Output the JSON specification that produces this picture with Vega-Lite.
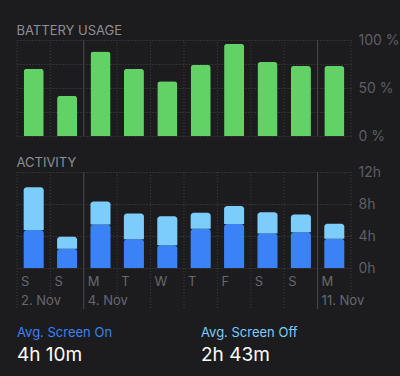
{
  "$schema": "https://vega.github.io/schema/vega-lite/v6.json",
  "background": "#1c1c1e",
  "padding": {"left": 16, "top": 25, "right": 30, "bottom": 60},
  "bounds": "flush",
  "spacing": 36,
  "config": {
    "font": "Inter",
    "view": {"stroke": null},
    "title": {"anchor": "start", "fontSize": 13, "fontWeight": "normal", "color": "#8e8e93", "offset": -5}
  },
  "datasets": {
    "days": [
      {"day": "Nov 2", "dow": "S", "dateLabel": "2. Nov", "battery": 70, "screenOn": 4.75, "screenOff": 5.33},
      {"day": "Nov 3", "dow": "S", "dateLabel": null, "battery": 42, "screenOn": 2.4, "screenOff": 1.5},
      {"day": "Nov 4", "dow": "M", "dateLabel": "4. Nov", "battery": 88, "screenOn": 5.45, "screenOff": 2.85},
      {"day": "Nov 5", "dow": "T", "dateLabel": null, "battery": 70, "screenOn": 3.6, "screenOff": 3.2},
      {"day": "Nov 6", "dow": "W", "dateLabel": null, "battery": 57, "screenOn": 2.83, "screenOff": 3.63},
      {"day": "Nov 7", "dow": "T", "dateLabel": null, "battery": 74, "screenOn": 4.9, "screenOff": 2.0},
      {"day": "Nov 8", "dow": "F", "dateLabel": null, "battery": 96, "screenOn": 5.5, "screenOff": 2.25},
      {"day": "Nov 9", "dow": "S", "dateLabel": null, "battery": 77, "screenOn": 4.3, "screenOff": 2.66},
      {"day": "Nov 10", "dow": "S", "dateLabel": null, "battery": 73, "screenOn": 4.46, "screenOff": 2.24},
      {"day": "Nov 11", "dow": "M", "dateLabel": "11. Nov", "battery": 73, "screenOn": 3.66, "screenOff": 1.88}
    ],
    "stats": [
      {"label": "Avg. Screen On", "value": "4h 10m"},
      {"label": "Avg. Screen Off", "value": "2h 43m"}
    ]
  },
  "vconcat": [
    {
      "width": 334,
      "height": 96,
      "title": "BATTERY USAGE",
      "data": {"name": "days"},
      "encoding": {
        "x": {"field": "day", "type": "nominal", "sort": null, "scale": {"type": "band", "paddingInner": 0, "paddingOuter": 0}, "axis": null}
      },
      "layer": [
        {
          "mark": {"type": "bar", "width": {"band": 0.6}, "cornerRadiusTopLeft": 3, "cornerRadiusTopRight": 3, "color": "#62d266"},
          "encoding": {
            "y": {"field": "battery", "type": "quantitative", "scale": {"domain": [0, 100], "nice": false},
              "axis": {"orient": "right", "title": null, "values": [0, 25, 50, 75, 100], "labelExpr": "datum.value % 50 == 0 ? datum.value + ' %' : ''", "labelOverlap": false, "domain": false, "ticks": false, "grid": true, "gridDash": [1, 2], "gridColor": "#47474b", "labelColor": "#5e5e63", "labelFontSize": 14, "labelPadding": 7}}
          }
        },
        {
          "mark": {"type": "rule", "strokeWidth": 1},
          "encoding": {
            "x": {"field": "day", "type": "nominal", "sort": null, "bandPosition": 0},
            "y": {"datum": 0, "type": "quantitative",
              "axis": {"orient": "right", "title": null, "values": [0, 25, 50, 75, 100], "labelExpr": "datum.value % 50 == 0 ? datum.value + ' %' : ''", "labelOverlap": false, "domain": false, "ticks": false, "grid": true, "gridDash": [1, 2], "gridColor": "#47474b", "labelColor": "#5e5e63", "labelFontSize": 14, "labelPadding": 7}},
            "y2": {"datum": 100},
            "color": {"condition": {"test": "datum.dow == 'M'", "value": "#4a4a4e"}, "value": "#3e3e42"},
            "strokeDash": {"condition": {"test": "datum.dow == 'M'", "value": [1, 0]}, "value": [1, 2]}
          }
        },
        {
          "transform": [{"filter": "datum.day == 'Nov 11'"}],
          "mark": {"type": "rule", "strokeWidth": 1, "color": "#3e3e42", "strokeDash": [1, 2]},
          "encoding": {
            "x": {"field": "day", "type": "nominal", "sort": null, "bandPosition": 1},
            "y": {"datum": 0, "type": "quantitative",
              "axis": {"orient": "right", "title": null, "values": [0, 25, 50, 75, 100], "labelExpr": "datum.value % 50 == 0 ? datum.value + ' %' : ''", "labelOverlap": false, "domain": false, "ticks": false, "grid": true, "gridDash": [1, 2], "gridColor": "#47474b", "labelColor": "#5e5e63", "labelFontSize": 14, "labelPadding": 7}},
            "y2": {"datum": 100}
          }
        }
      ]
    },
    {
      "width": 334,
      "height": 96,
      "title": "ACTIVITY",
      "data": {"name": "days"},
      "encoding": {
        "x": {"field": "day", "type": "nominal", "sort": null, "scale": {"type": "band", "paddingInner": 0, "paddingOuter": 0}, "axis": null}
      },
      "layer": [
        {
          "transform": [
            {"fold": ["screenOn", "screenOff"], "as": ["kind", "hours"]},
            {"stack": "hours", "groupby": ["day"], "sort": [{"field": "kind", "order": "descending"}], "as": ["h0", "h1"]}
          ],
          "mark": {"type": "bar", "width": {"band": 0.6}, "cornerRadiusTopLeft": 3, "cornerRadiusTopRight": 3},
          "encoding": {
            "y": {"field": "h1", "type": "quantitative", "scale": {"domain": [0, 12], "nice": false},
              "axis": {"orient": "right", "title": null, "values": [0, 4, 8, 12], "labelExpr": "datum.value + 'h'", "labelOverlap": false, "domain": false, "ticks": false, "grid": true, "gridDash": [1, 2], "gridColor": "#47474b", "labelColor": "#5e5e63", "labelFontSize": 14, "labelPadding": 7}},
            "y2": {"field": "h0"},
            "color": {"field": "kind", "type": "nominal", "scale": {"domain": ["screenOn", "screenOff"], "range": ["#3b82f6", "#7dcdfc"]}, "legend": null}
          }
        },
        {
          "mark": {"type": "rule", "strokeWidth": 1, "y2Offset": 41},
          "encoding": {
            "x": {"field": "day", "type": "nominal", "sort": null, "bandPosition": 0},
            "y": {"datum": 12, "type": "quantitative",
              "axis": {"orient": "right", "title": null, "values": [0, 4, 8, 12], "labelExpr": "datum.value + 'h'", "labelOverlap": false, "domain": false, "ticks": false, "grid": true, "gridDash": [1, 2], "gridColor": "#47474b", "labelColor": "#5e5e63", "labelFontSize": 14, "labelPadding": 7}},
            "y2": {"datum": 0},
            "color": {"condition": {"test": "datum.dow == 'M'", "value": "#4a4a4e"}, "value": "#3e3e42"},
            "strokeDash": {"condition": {"test": "datum.dow == 'M'", "value": [1, 0]}, "value": [1, 2]}
          }
        },
        {
          "transform": [{"filter": "datum.day == 'Nov 11'"}],
          "mark": {"type": "rule", "strokeWidth": 1, "color": "#3e3e42", "strokeDash": [1, 2], "y2Offset": 41},
          "encoding": {
            "x": {"field": "day", "type": "nominal", "sort": null, "bandPosition": 1},
            "y": {"datum": 12, "type": "quantitative",
              "axis": {"orient": "right", "title": null, "values": [0, 4, 8, 12], "labelExpr": "datum.value + 'h'", "labelOverlap": false, "domain": false, "ticks": false, "grid": true, "gridDash": [1, 2], "gridColor": "#47474b", "labelColor": "#5e5e63", "labelFontSize": 14, "labelPadding": 7}},
            "y2": {"datum": 0}
          }
        },
        {
          "mark": {"type": "text", "align": "left", "baseline": "alphabetic", "dx": 4, "dy": 17.5, "fontSize": 13, "color": "#68686d"},
          "encoding": {
            "x": {"field": "day", "type": "nominal", "sort": null, "bandPosition": 0},
            "y": {"datum": 0, "type": "quantitative",
              "axis": {"orient": "right", "title": null, "values": [0, 4, 8, 12], "labelExpr": "datum.value + 'h'", "labelOverlap": false, "domain": false, "ticks": false, "grid": true, "gridDash": [1, 2], "gridColor": "#47474b", "labelColor": "#5e5e63", "labelFontSize": 14, "labelPadding": 7}},
            "text": {"field": "dow"}
          }
        },
        {
          "transform": [{"filter": "datum.dateLabel != null"}],
          "mark": {"type": "text", "align": "left", "baseline": "alphabetic", "dx": 4, "dy": 37, "fontSize": 13, "color": "#68686d"},
          "encoding": {
            "x": {"field": "day", "type": "nominal", "sort": null, "bandPosition": 0},
            "y": {"datum": 0, "type": "quantitative",
              "axis": {"orient": "right", "title": null, "values": [0, 4, 8, 12], "labelExpr": "datum.value + 'h'", "labelOverlap": false, "domain": false, "ticks": false, "grid": true, "gridDash": [1, 2], "gridColor": "#47474b", "labelColor": "#5e5e63", "labelFontSize": 14, "labelPadding": 7}},
            "text": {"field": "dateLabel"}
          }
        }
      ]
    },
    {
      "width": 368,
      "height": 40,
      "data": {"name": "stats"},
      "encoding": {
        "x": {"field": "label", "type": "nominal", "sort": null, "bandPosition": 0, "scale": {"type": "band", "paddingInner": 0, "paddingOuter": 0}, "axis": null}
      },
      "layer": [
        {
          "mark": {"type": "text", "align": "left", "baseline": "alphabetic", "dy": 13, "fontSize": 13},
          "encoding": {
            "text": {"field": "label"},
            "color": {"field": "label", "type": "nominal", "scale": {"domain": ["Avg. Screen On", "Avg. Screen Off"], "range": ["#4282dc", "#80c6f0"]}, "legend": null}
          }
        },
        {
          "mark": {"type": "text", "align": "left", "baseline": "alphabetic", "dy": 36.5, "fontSize": 19, "color": "#ffffff"},
          "encoding": {
            "text": {"field": "value"}
          }
        }
      ]
    }
  ]
}
